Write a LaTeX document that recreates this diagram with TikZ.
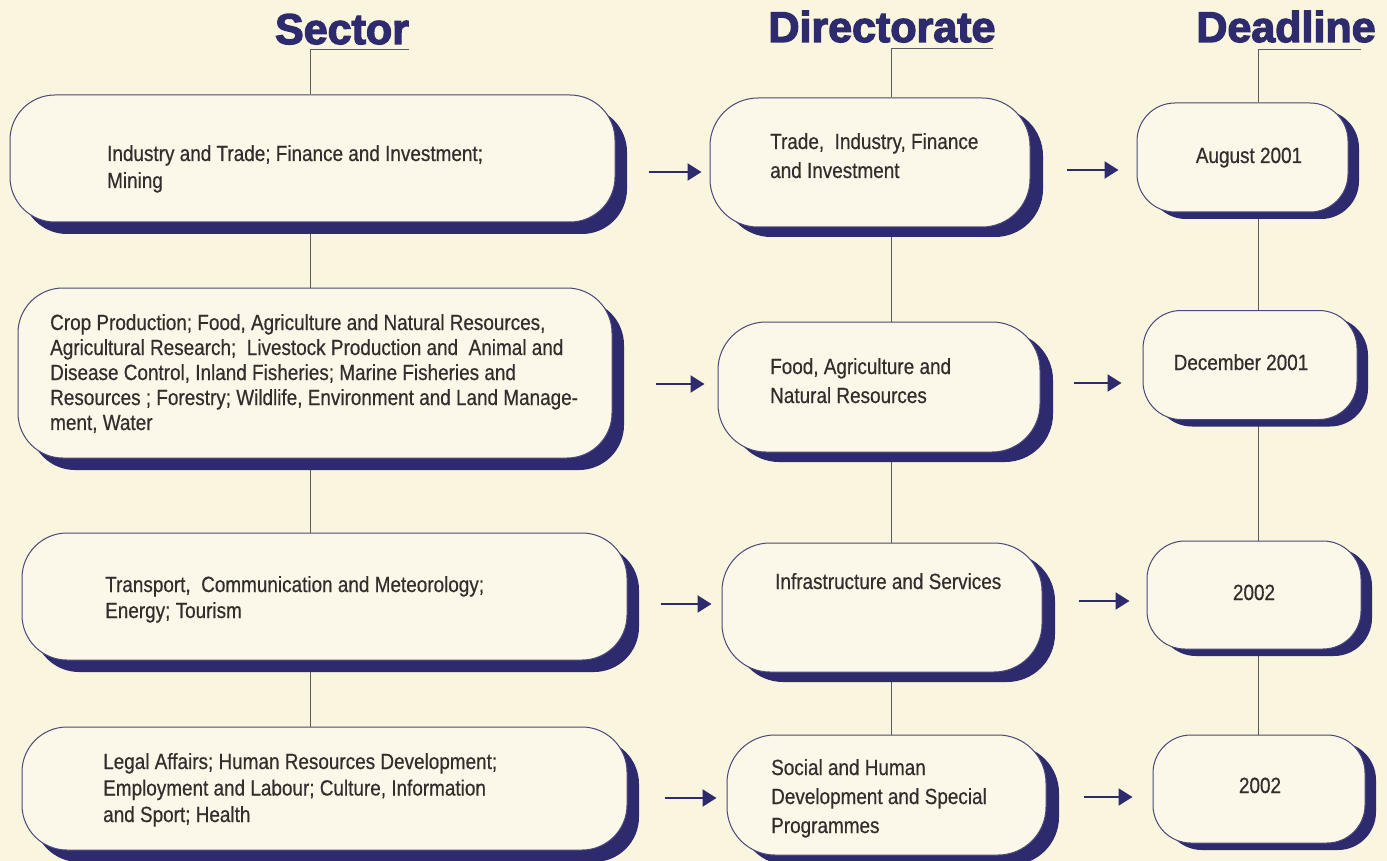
\documentclass[tikz,border=0pt]{standalone}
\usepackage{fontspec}
\setmainfont{Liberation Sans}[FakeStretch=0.86,FakeBold=0.5]
\newfontfamily\headfont{Liberation Sans}[BoldFeatures={FakeBold=3}]
\usetikzlibrary{arrows.meta,shadows,backgrounds,calc}

\definecolor{paper}{HTML}{FAF5DE}
\definecolor{boxfill}{HTML}{FCF8E9}
\definecolor{navy}{HTML}{2D2A6E}
\definecolor{rim}{HTML}{4A4878}
\definecolor{ink}{HTML}{332D2D}
\definecolor{wire}{HTML}{5E5A62}

% multi-line box text, first baseline is the node's base
\newcommand\boxlines[2]{\parbox[t]{600pt}{\baselineskip=#1\relax #2}}

\begin{document}
\begin{tikzpicture}[x=1pt,y=-1pt,
  box/.style={draw=rim, line width=1pt, fill=boxfill, inner sep=0pt},
  sbox/.style={box, rounded corners=45pt,
    drop shadow={shadow xshift=12pt, shadow yshift=-12pt, fill=navy, opacity=1}},
  dbox/.style={box, rounded corners=48pt,
    drop shadow={shadow xshift=13pt, shadow yshift=-10pt, fill=navy, opacity=1}},
  lbox/.style={box, rounded corners=38pt,
    drop shadow={shadow xshift=11pt, shadow yshift=-7pt, fill=navy, opacity=1}},
  txt/.style={inner sep=0pt, text=ink, font=\fontsize{22pt}{27pt}\selectfont},
  head/.style={inner sep=0pt, text=navy, font=\headfont\bfseries\fontsize{43pt}{43pt}\selectfont},
  conn/.style={draw=wire, line width=1pt},
  arr/.style={draw=navy, line width=2.2pt, -{Triangle[length=14pt,width=17pt]}},
]
\useasboundingbox (0,0) rectangle (1387,861);

% column axes and arrow rows
\coordinate (colS) at (310,0);
\coordinate (colD) at (891,0);
\coordinate (colL) at (1258,0);
\coordinate (ra1) at (0,172);
\coordinate (ra2) at (0,384);
\coordinate (ra3) at (0,604);
\coordinate (ra4) at (0,798);
\coordinate (rb1) at (0,170);
\coordinate (rb2) at (0,383);
\coordinate (rb3) at (0,601);
\coordinate (rb4) at (0,797);

% headings
\node[head, anchor=base] (hS) at (342,44) {Sector};
\node[head, anchor=base] (hD) at (882,42) {Directorate};
\node[head, anchor=base] (hL) at (1286,42) {Deadline};

% sector boxes
\node[sbox, minimum width=605pt, minimum height=127pt] (S1) at (312.5,158.5) {};
\node[sbox, minimum width=594pt, minimum height=170pt] (S2) at (315,373) {};
\node[sbox, minimum width=605pt, minimum height=127pt] (S3) at (324.5,596.5) {};
\node[sbox, minimum width=605pt, minimum height=123pt] (S4) at (324.5,788.5) {};

% directorate boxes
\node[dbox, minimum width=320pt, minimum height=129pt] (D1) at (870,162.5) {};
\node[dbox, minimum width=322pt, minimum height=130pt] (D2) at (879,387) {};
\node[dbox, minimum width=320pt, minimum height=129pt] (D3) at (882,607.5) {};
\node[dbox, minimum width=319pt, minimum height=120pt] (D4) at (886.5,795) {};

% deadline boxes
\node[lbox, minimum width=211pt, minimum height=109pt] (L1) at (1242.5,157.5) {};
\node[lbox, minimum width=214pt, minimum height=109pt] (L2) at (1250,365) {};
\node[lbox, minimum width=214pt, minimum height=108pt] (L3) at (1254,595) {};
\node[lbox, minimum width=212pt, minimum height=108pt] (L4) at (1259,789) {};

% box texts
\node[txt, anchor=base west] (S1t) at (107,161) {\boxlines{27pt}{Industry and Trade; Finance and Investment;\\ Mining}};
\node[txt, anchor=base west] (S2t) at (50,330) {\boxlines{25pt}{Crop Production; Food, Agriculture and Natural Resources,\\
 Agricultural Research;\ \ Livestock Production and\ \ Animal and\\
 Disease Control, Inland Fisheries; Marine Fisheries and\\
 Resources ; Forestry; Wildlife, Environment and Land Manage-\\
 ment, Water}};
\node[txt, anchor=base west] (S3t) at (105,592) {\boxlines{26pt}{Transport,\ \ Communication and Meteorology;\\ Energy; Tourism}};
\node[txt, anchor=base west] (S4t) at (103,769) {\boxlines{26.5pt}{Legal Affairs; Human Resources Development;\\ Employment and Labour; Culture, Information\\ and Sport; Health}};

\node[txt, anchor=base west] (D1t) at (770,149) {\boxlines{29pt}{Trade,\ \ Industry, Finance\\ and Investment}};
\node[txt, anchor=base west] (D2t) at (770,374) {\boxlines{29pt}{Food, Agriculture and\\ Natural Resources}};
\node[txt, anchor=base west] (D3t) at (775,589) {Infrastructure and Services};
\node[txt, anchor=base west] (D4t) at (771,775) {\boxlines{29pt}{Social and Human\\ Development and Special\\ Programmes}};

\node[txt, anchor=base] (L1t) at (1249,163) {August 2001};
\node[txt, anchor=base] (L2t) at (1241,370) {December 2001};
\node[txt, anchor=base] (L3t) at (1254,600) {2002};
\node[txt, anchor=base] (L4t) at (1260,793) {2002};

\begin{scope}[on background layer]
  \fill[paper] (0,0) rectangle (1387,861);
  % heading rules down to the first box of each column
  \draw[conn] ([yshift=-6pt]hS.base east) -| (S1.north -| colS);
  \draw[conn] ([xshift=-3pt,yshift=-7pt]hD.base east) -| (D1.north -| colD);
  \draw[conn] ([xshift=-15pt,yshift=-8pt]hL.base east) -| (L1.north -| colL);
  % column spines
  \draw[conn] (S1.south -| colS) -- (S2.north -| colS);
  \draw[conn] (S2.south -| colS) -- (S3.north -| colS);
  \draw[conn] (S3.south -| colS) -- (S4.north -| colS);
  \draw[conn] (D1.south -| colD) -- (D2.north -| colD);
  \draw[conn] (D2.south -| colD) -- (D3.north -| colD);
  \draw[conn] (D3.south -| colD) -- (D4.north -| colD);
  \draw[conn] (L1.south -| colL) -- (L2.north -| colL);
  \draw[conn] (L2.south -| colL) -- (L3.north -| colL);
  \draw[conn] (L3.south -| colL) -- (L4.north -| colL);
\end{scope}

% sector -> directorate
\draw[arr] ([xshift=33pt]S1.east |- ra1) -- ([xshift=-8pt]D1.west |- ra1);
\draw[arr] ([xshift=43pt]S2.east |- ra2) -- ([xshift=-13pt]D2.west |- ra2);
\draw[arr] ([xshift=33pt]S3.east |- ra3) -- ([xshift=-10pt]D3.west |- ra3);
\draw[arr] ([xshift=37pt]S4.east |- ra4) -- ([xshift=-10pt]D4.west |- ra4);
% directorate -> deadline
\draw[arr] ([xshift=36pt]D1.east |- rb1) -- ([xshift=-18pt]L1.west |- rb1);
\draw[arr] ([xshift=33pt]D2.east |- rb2) -- ([xshift=-21pt]L2.west |- rb2);
\draw[arr] ([xshift=36pt]D3.east |- rb3) -- ([xshift=-17pt]L3.west |- rb3);
\draw[arr] ([xshift=37pt]D4.east |- rb4) -- ([xshift=-20pt]L4.west |- rb4);
\end{tikzpicture}
\end{document}
